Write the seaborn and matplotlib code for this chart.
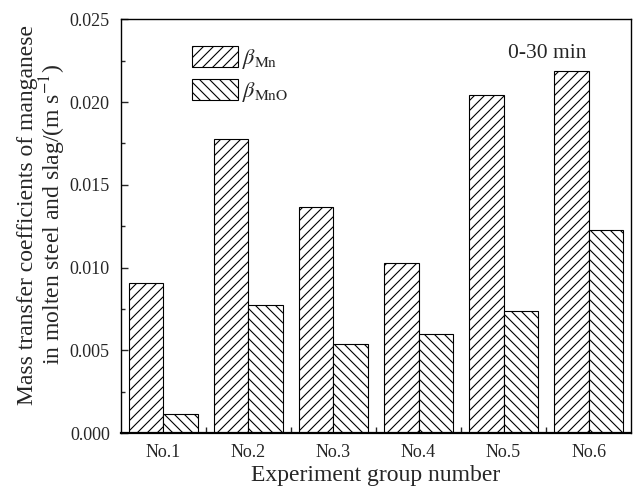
import pandas as pd
import matplotlib
matplotlib.use("Agg")
import matplotlib.pyplot as plt
import matplotlib.patches as mpatches
from matplotlib.ticker import MultipleLocator, FixedLocator
import seaborn as sns

# Data
groups = ["No.1", "No.2", "No.3", "No.4", "No.5", "No.6"]
beta_mn = [0.00908, 0.01777, 0.01367, 0.01025, 0.02045, 0.02186]
beta_mno = [0.00115, 0.00771, 0.00536, 0.00596, 0.00737, 0.01226]
series = [r"$\beta_{\rm Mn}$", r"$\beta_{\rm MnO}$"]

df = pd.DataFrame({
    "group": groups * 2,
    "value": beta_mn + beta_mno,
    "series": [series[0]] * len(groups) + [series[1]] * len(groups),
})

# rendered at 120 dpi so the hatch spacing comes out near the original;
# all point sizes are scaled so that pixel sizes stay the same
DPI = 120
S = 100 / DPI

sns.set_style("ticks")
plt.rcParams["font.family"] = ["Liberation Serif", "DejaVu Serif"]
plt.rcParams["mathtext.fontset"] = "stix"
plt.rcParams["hatch.linewidth"] = 0.8 * S

fig = plt.figure(figsize=(633 / DPI, 489 / DPI), dpi=DPI)
ax = fig.add_axes([0.191, 0.1145, 0.806, 0.846])

sns.barplot(data=df, x="group", y="value", hue="series", order=groups,
            hue_order=series, width=0.81, gap=0,
            palette=["white", "white"], edgecolor="black", linewidth=0.8 * S,
            legend=False, ax=ax)

hatches = ["////", "\\\\\\\\"]
for cont, h in zip(ax.containers, hatches):
    for bar in cont:
        bar.set_hatch(h)
        bar.set_facecolor("white")
        bar.set_edgecolor("black")

ax.set_xlim(-0.5, 5.5)
ax.set_ylim(0, 0.025)
ax.yaxis.set_major_locator(MultipleLocator(0.005))
ax.yaxis.set_minor_locator(MultipleLocator(0.0025))
ax.yaxis.set_major_formatter(matplotlib.ticker.FormatStrFormatter("%.3f"))

# ticks between groups, labels at group centres
ax.set_xticks(range(len(groups)))
ax.set_xticklabels(groups)
ax.xaxis.set_minor_locator(FixedLocator([0.5, 1.5, 2.5, 3.5, 4.5]))
ax.tick_params(axis="x", which="major", length=0, labelsize=13 * S, pad=8 * S)
ax.tick_params(axis="x", which="minor", direction="in", length=4 * S, width=S)
ax.tick_params(axis="y", which="major", direction="in", length=5 * S, width=S,
               labelsize=13 * S, pad=8 * S)
ax.tick_params(axis="y", which="minor", direction="in", length=3 * S, width=S)

for sp in ax.spines.values():
    sp.set_linewidth(1.0 * S)
    sp.set_color("black")
ax.spines["bottom"].set_linewidth(1.6 * S)

ax.set_xlabel("Experiment group number", fontsize=17 * S, labelpad=3 * S)
ax.set_ylabel("Mass transfer coefficients of manganese\nin molten steel and slag/(m s$^{-1}$)",
              fontsize=17 * S, linespacing=1.0)
ax.yaxis.set_label_coords(-0.103, 0.527)

handles = [mpatches.Patch(facecolor="white", edgecolor="black", hatch=h,
                          linewidth=0.8 * S) for h in hatches]
ax.legend(handles, series, loc="upper left", bbox_to_anchor=(0.1, 0.985),
          frameon=False, fontsize=16 * S, handlelength=2.07, handleheight=1.08,
          handletextpad=0.2, labelspacing=0.36)

ax.text(0.835, 0.918, "0-30 min", transform=ax.transAxes, ha="center",
        va="center", fontsize=15.5 * S)

fig.savefig("out.png", dpi=DPI)
